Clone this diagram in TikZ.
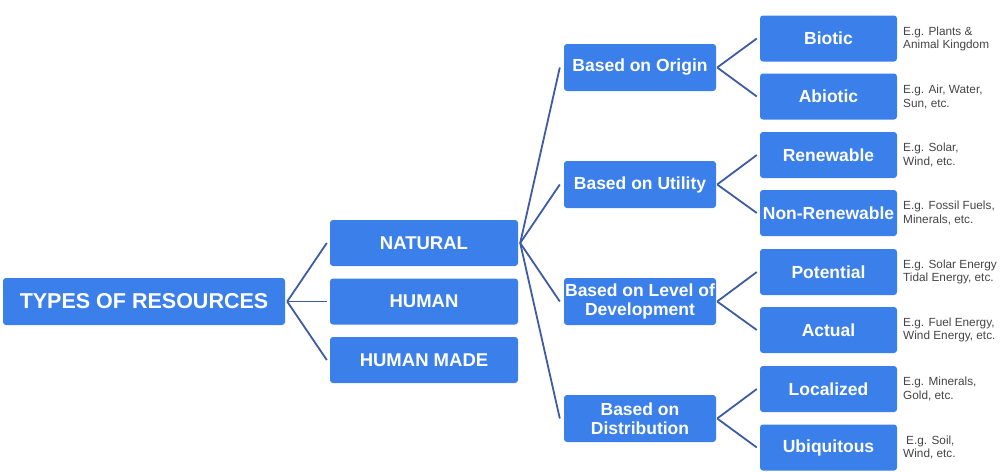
\documentclass[tikz,border=0pt]{standalone}
\usepackage{fontspec}
\setmainfont{Liberation Sans}
\definecolor{boxblue}{HTML}{3B80EA}
\definecolor{linkblue}{HTML}{3D5CA3}
\definecolor{notegray}{HTML}{454545}
\begin{document}
\begin{tikzpicture}[x=1pt,y=-1pt,
  box/.style={fill=boxblue, rounded corners=3pt, text=white, inner sep=0pt, align=center},
  rootbox/.style={box, minimum width=282pt, minimum height=47pt, font=\fontsize{21.5}{24}\selectfont\bfseries},
  lvtwo/.style={box, minimum width=188pt, minimum height=46pt, font=\fontsize{18.5}{21}\selectfont\bfseries},
  lvthree/.style={box, minimum width=152pt, minimum height=47pt, font=\fontsize{17.5}{19.5}\selectfont\bfseries},
  lvfour/.style={box, minimum width=137pt, minimum height=46pt, font=\fontsize{17.5}{19.5}\selectfont\bfseries},
  note/.style={anchor=west, inner sep=0pt, align=left, text=notegray, font=\fontsize{11.8}{13.5}\selectfont},
  link/.style={draw=linkblue, line width=1.8pt}
]
\useasboundingbox (0,0) rectangle (1000,471);
\fill[white] (0,0) rectangle (1000,471);

% root
\node[rootbox] (root) at (144,301.5) {TYPES OF RESOURCES};

% level 2
\node[lvtwo] (nat) at (424,243) {NATURAL};
\node[lvtwo] (hum) at (424,301.5) {HUMAN};
\node[lvtwo] (hmade) at (424,360) {HUMAN MADE};

% level 3
\node[lvthree] (origin) at (640,67.5) {Based on Origin};
\node[lvthree] (utility) at (640,184.5) {Based on Utility};
\node[lvthree] (level) at (640,301.5) {Based on Level of\\Development};
\node[lvthree] (distr) at (640,418.5) {Based on\\Distribution};

% level 4
\node[lvfour] (biotic) at (828.5,38.5) {Biotic};
\node[lvfour] (abiotic) at (828.5,96.5) {Abiotic};
\node[lvfour] (renew) at (828.5,155) {Renewable};
\node[lvfour] (nonrenew) at (828.5,213) {Non-Renewable};
\node[lvfour] (potential) at (828.5,272) {Potential};
\node[lvfour] (actual) at (828.5,330) {Actual};
\node[lvfour] (local) at (828.5,389) {Localized};
\node[lvfour] (ubiq) at (828.5,447.5) {Ubiquitous};

% notes
\node[note] (nbiotic) at (903,39) {E.g. Plants \&\\Animal Kingdom};
\node[note] (nabiotic) at (903,97) {E.g. Air, Water,\\Sun, etc.};
\node[note] (nrenew) at (903,155) {E.g. Solar,\\Wind, etc.};
\node[note] (nnonrenew) at (903,213) {E.g. Fossil Fuels,\\Minerals, etc.};
\node[note] (npotential) at (903,272) {E.g. Solar Energy\\Tidal Energy, etc.};
\node[note] (nactual) at (903,330) {E.g. Fuel Energy,\\Wind Energy, etc.};
\node[note] (nlocal) at (903,389) {E.g. Minerals,\\Gold, etc.};
\node[note] (nubiq) at (903,447.5) {\hspace{3pt}E.g. Soil,\\Wind, etc.};

% connectors root -> level 2
\foreach \t in {nat,hum,hmade}
  \draw[link] ([xshift=2pt]root.east) -- ([xshift=-3pt]\t.west);
% natural -> level 3
\foreach \t in {origin,utility,level,distr}
  \draw[link] ([xshift=2pt]nat.east) -- ([xshift=-4pt]\t.west);
% level 3 -> level 4
\foreach \s/\a/\b in {origin/biotic/abiotic, utility/renew/nonrenew, level/potential/actual, distr/local/ubiq}{
  \draw[link] ([xshift=1pt]\s.east) -- ([xshift=-3pt]\a.west);
  \draw[link] ([xshift=1pt]\s.east) -- ([xshift=-3pt]\b.west);
}
\end{tikzpicture}
\end{document}
